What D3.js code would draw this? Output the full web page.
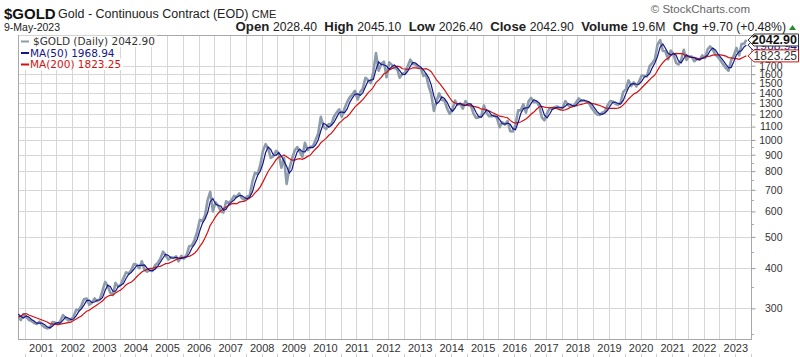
<!DOCTYPE html>
<html><head><meta charset="utf-8">
<script src="https://cdn.jsdelivr.net/npm/d3@7"></script>
<style>
body{margin:0;background:#fff;}
svg{display:block;font-family:"Liberation Sans",Arial,sans-serif;}
</style>
</head><body>
<svg id="c" width="800" height="357"></svg>
<script>
// ---- DATA (monthly readings, Apr 2000 .. May 2023) ----
const firstMonth = [2000, 3];      // April 2000
const lastDay = [2023, 4, 9];      // 9-May-2023
const price = [
  281,276,288,283,276,274,270,268,273,
  266,262,260,261,272,271,268,274,286,280,275,277,
  283,297,296,306,320,322,308,312,322,316,320,340,
  362,352,336,330,360,350,355,372,388,385,395,412,
  410,400,420,395,390,395,392,408,415,428,450,438,
  425,432,430,435,420,437,428,440,468,470,490,518,
  565,560,582,650,690,600,640,625,600,595,645,635,
  650,670,665,682,660,650,668,672,742,790,785,835,
  925,970,940,880,890,925,910,820,880,730,815,870,
  925,950,920,885,980,930,950,955,1000,1045,1180,1100,
  1080,1120,1115,1180,1215,1245,1180,1250,1310,1355,1385,1420,
  1335,1410,1440,1560,1535,1500,1625,1860,1640,1720,1750,1565,
  1740,1710,1670,1665,1560,1605,1615,1690,1775,1720,1715,1675,
  1665,1580,1600,1470,1390,1230,1320,1395,1330,1325,1250,1205,
  1245,1325,1285,1295,1250,1320,1285,1285,1210,1170,1175,1185,
  1280,1215,1185,1185,1190,1170,1095,1135,1115,1145,1065,1062,
  1115,1235,1235,1290,1215,1320,1350,1310,1315,1275,1175,1150,
  1210,1255,1250,1265,1270,1245,1265,1320,1280,1270,1275,1305,
  1345,1320,1325,1315,1300,1255,1225,1200,1195,1215,1225,1280,
  1320,1315,1295,1285,1305,1410,1435,1530,1470,1510,1465,1520,
  1585,1580,1575,1695,1730,1780,1975,2040,1890,1880,1780,1895,
  1850,1735,1715,1770,1905,1770,1815,1815,1755,1785,1775,1830,
  1795,1910,1950,1910,1840,1810,1765,1715,1670,1640,1770,1825,
  1930,1830,1985,1990,2042.90
];
const ma50 = [
  288,283,280,284,282,277,274,270,270,
  270,267,263,261,264,269,271,270,276,282,280,277,
  278,285,293,299,307,317,318,313,314,318,319,324,
  341,354,351,339,339,350,354,358,372,383,388,397,
  407,408,408,409,400,393,393,397,406,417,430,442,
  438,430,430,432,430,428,431,433,444,462,475,492,
  523,552,567,594,643,658,633,626,623,605,609,630,
  641,651,664,671,672,663,657,665,689,737,777,799,
  845,914,951,933,898,896,913,891,858,828,789,808,
  870,918,936,919,918,944,948,946,965,1000,1068,1126,
  1115,1095,1109,1133,1173,1214,1221,1214,1248,1306,1351,1386,
  1390,1375,1399,1463,1524,1533,1540,1653,1746,1715,1708,1696,
  1655,1689,1708,1679,1640,1598,1596,1631,1693,1740,1733,1706,
  1683,1646,1606,1563,1483,1370,1293,1316,1360,1345,1308,1258,
  1226,1255,1295,1298,1281,1279,1294,1294,1266,1219,1181,1176,
  1206,1240,1224,1193,1186,1184,1156,1124,1120,1128,1118,1084,
  1076,1132,1205,1249,1258,1260,1301,1333,1321,1304,1260,1194,
  1171,1206,1243,1255,1263,1263,1256,1274,1296,1288,1274,1281,
  1308,1329,1328,1321,1314,1293,1259,1226,1205,1201,1213,1236,
  1276,1309,1311,1298,1293,1326,1390,1453,1491,1495,1489,1490,
  1523,1568,1580,1606,1674,1734,1816,1943,1986,1925,1858,1834,
  1855,1833,1759,1734,1790,1838,1815,1804,1800,1778,1775,1791,
  1808,1833,1891,1930,1903,1850,1806,1764,1716,1674,1680,1751,
  1838,1879,1894,1948,1968.94
];
const ma200 = [
  282,284,288,289,286,284,282,280,278,
  276,274,272,269,268,268,267,268,269,270,271,272,
  275,278,281,284,289,294,296,300,304,308,312,316,
  323,327,329,330,335,339,342,348,355,359,362,368,
  376,383,389,393,397,399,399,402,404,405,409,413,
  414,417,421,425,428,431,432,434,435,439,445,454,
  467,480,496,517,543,559,577,592,603,611,619,626,
  633,635,633,641,643,645,652,660,669,685,698,715,
  741,770,798,821,843,868,885,888,898,887,876,866,
  865,872,875,871,878,889,896,918,937,954,980,995,
  1011,1034,1048,1073,1099,1128,1146,1167,1180,1205,1236,1266,
  1288,1311,1333,1365,1400,1425,1457,1507,1533,1563,1604,1620,
  1650,1665,1678,1695,1688,1663,1660,1657,1660,1675,1673,1669,
  1669,1660,1664,1651,1628,1582,1537,1504,1466,1431,1389,1352,
  1316,1302,1291,1298,1291,1283,1279,1275,1271,1267,1260,1246,
  1246,1238,1231,1218,1208,1197,1185,1182,1176,1172,1150,1135,
  1128,1133,1137,1149,1161,1180,1203,1220,1245,1266,1272,1264,
  1261,1258,1261,1256,1248,1241,1236,1241,1251,1263,1270,1275,
  1284,1290,1295,1302,1306,1299,1294,1287,1279,1270,1258,1254,
  1253,1253,1253,1256,1264,1285,1309,1340,1365,1388,1402,1423,
  1452,1481,1508,1537,1566,1591,1642,1695,1737,1773,1793,1824,
  1852,1856,1854,1853,1846,1819,1812,1805,1803,1792,1784,1794,
  1802,1816,1820,1834,1837,1836,1837,1830,1820,1801,1798,1790,
  1788,1780,1794,1812,1823.25
];
const yTickLabels = [300,400,500,600,700,800,900,1000,1100,1200,1300,1400,1500,1600,1700];
const yMinorTicks = [250,350,450,550,650,750,850,950];
const xYears = [2001,2002,2003,2004,2005,2006,2007,2008,2009,2010,2011,2012,2013,2014,2015,2016,2017,2018,2019,2020,2021,2022,2023];
const lastClose = 2042.90, lastMa50 = 1968.94, lastMa200 = 1823.25;

// ---- LAYOUT ----
const L = 18, R = 751, T = 35, B = 339;
const svg = d3.select("#c");

const dates = price.map((v, i) => {
  if (i === price.length - 1) return new Date(lastDay[0], lastDay[1], lastDay[2]);
  return new Date(firstMonth[0], firstMonth[1] + i, 15);
});

const x = d3.scaleTime().domain([new Date(2000, 3, 12), new Date(2023, 6, 2)]).range([L, R]);
const y = d3.scaleLog().domain([241, 2117]).range([B, T]);

// grid
const grid = svg.append("g");
const halfYears = d3.timeMonth.range(new Date(2000, 6, 1), new Date(2023, 6, 2)).filter(d => d.getMonth() % 6 === 0);
grid.selectAll("line.v").data(halfYears).join("line")
  .attr("x1", d => Math.round(x(d)) + 0.5).attr("x2", d => Math.round(x(d)) + 0.5)
  .attr("y1", T).attr("y2", B).attr("stroke", "#d6d6d6").attr("stroke-width", 1);
grid.selectAll("line.h").data(yTickLabels).join("line")
  .attr("x1", L).attr("x2", R)
  .attr("y1", d => Math.round(y(d)) + 0.5).attr("y2", d => Math.round(y(d)) + 0.5)
  .attr("stroke", "#d6d6d6").attr("stroke-width", 1);

// bottom small ticks
svg.append("g").selectAll("line").data(halfYears).join("line")
  .attr("x1", d => Math.round(x(d)) + 0.5).attr("x2", d => Math.round(x(d)) + 0.5)
  .attr("y1", 354).attr("y2", 357).attr("stroke", "#ccc");

// frame
svg.append("rect").attr("x", L + 0.5).attr("y", T + 0.5).attr("width", R - L).attr("height", B - T)
  .attr("fill", "none").attr("stroke", "#a8a8a8");

// clip
svg.append("clipPath").attr("id", "clip").append("rect")
  .attr("x", L).attr("y", T).attr("width", R - L).attr("height", B - T);

const line = d3.line().x((d, i) => x(dates[i])).y(d => y(d)).curve(d3.curveLinear);
const plot = svg.append("g").attr("clip-path", "url(#clip)");
plot.append("path").attr("d", line(price)).attr("fill", "none")
  .attr("stroke", "#8d9cab").attr("stroke-width", 2.6).attr("stroke-linejoin", "round");
plot.append("path").attr("d", line(ma200)).attr("fill", "none")
  .attr("stroke", "#d41111").attr("stroke-width", 1.2);
plot.append("path").attr("d", line(ma50)).attr("fill", "none")
  .attr("stroke", "#16168a").attr("stroke-width", 1.2);

// y axis (right)
const yAxis = d3.axisRight(y).tickValues(yTickLabels).tickFormat(d3.format("d")).tickSize(4).tickPadding(2);
const ya = svg.append("g").attr("transform", `translate(${R + 0.5},0)`).call(yAxis);
ya.select(".domain").remove();
ya.selectAll("line").attr("stroke", "#999");
ya.selectAll("text").attr("x", 31).attr("text-anchor", "end").attr("fill", "#333")
  .style("font-size", "10.5px").style("font-family", "'Liberation Sans',Arial,sans-serif");
svg.append("g").selectAll("line").data(yMinorTicks).join("line")
  .attr("x1", R).attr("x2", R + 3).attr("y1", d => Math.round(y(d)) + 0.5).attr("y2", d => Math.round(y(d)) + 0.5)
  .attr("stroke", "#aaa");

// x axis
const xAxis = d3.axisBottom(x).tickValues(xYears.map(v => new Date(v, 0, 1))).tickFormat(d3.timeFormat("%Y")).tickSize(0).tickPadding(0);
const xa = svg.append("g").attr("transform", `translate(0,${B})`).call(xAxis);
xa.select(".domain").remove();
xa.selectAll("text").attr("y", 13).attr("dy", 0).attr("fill", "#333")
  .style("font-size", "11px").style("font-family", "'Liberation Sans',Arial,sans-serif");

// legend
const leg = [
  {t: "$GOLD (Daily) 2042.90", c: "#8d9cab", tc: "#333"},
  {t: "MA(50) 1968.94", c: "#16168a", tc: "#16168a"},
  {t: "MA(200) 1823.25", c: "#d41111", tc: "#d41111"}
];
leg.forEach((d, i) => {
  const yy = 45 + i * 11.5;
  const g = svg.append("g");
  const bg = g.append("rect").attr("fill", "#fff");
  g.append("line").attr("x1", 21).attr("x2", 29).attr("y1", yy - 3.5).attr("y2", yy - 3.5)
    .attr("stroke", d.c).attr("stroke-width", 2);
  const tx = g.append("text").attr("x", i === 0 ? 33 : 30).attr("y", yy).attr("fill", d.tc)
    .style("font-size", "10.5px").style("font-family", "'DejaVu Sans',Verdana,sans-serif").text(d.t);
  const bb = tx.node().getBBox();
  bg.attr("x", 19).attr("y", yy - 9.5).attr("width", bb.x + bb.width - 19 + 2).attr("height", 11.5);
});

// right value tags
function tag(v, stroke, tc, bold) {
  const yy = y(v);
  const g = svg.append("g");
  g.append("path").attr("d", `M${R - 3},${yy} L${R + 3},${yy - 6} L798.5,${yy - 6} L798.5,${yy + 6} L${R + 3},${yy + 6} Z`)
    .attr("fill", "#fff").attr("stroke", stroke).attr("stroke-width", 1);
  g.append("text").attr("x", 797).attr("y", yy + 4.5).attr("text-anchor", "end").attr("fill", tc)
    .style("font-size", bold ? "12.5px" : "12px").style("font-weight", bold ? "bold" : "normal").text(d3.format(".2f")(v));
}
tag(lastMa50, "#16168a", "#16168a", false);
tag(lastMa200, "#d41111", "#333", false);
tag(lastClose, "#333", "#111", true);

// header
svg.append("text").attr("x", 4).attr("y", 19).attr("fill", "#111")
  .style("font-size", "15px").style("font-weight", "bold").text("$GOLD");
const sub = svg.append("text").attr("x", 58).attr("y", 18).attr("fill", "#222").style("font-size", "12.5px");
sub.append("tspan").text("Gold - Continuous Contract (EOD) ");
sub.append("tspan").style("font-size", "11px").text("CME");
svg.append("text").attr("x", 4).attr("y", 31).attr("fill", "#222").style("font-size", "10.5px").text("9-May-2023");
svg.append("text").attr("x", 750).attr("y", 13).attr("text-anchor", "end").attr("fill", "#666")
  .style("font-size", "11.5px").text("© StockCharts.com");

const stats = [["Open", "2028.40"], ["High", "2045.10"], ["Low", "2026.40"], ["Close", "2042.90"], ["Volume", "19.6M"], ["Chg", "+9.70 (+0.48%)"]];
const st = svg.append("text").attr("x", 786).attr("y", 31).attr("text-anchor", "end").attr("fill", "#222").style("font-size", "12.2px");
stats.forEach((s, i) => {
  st.append("tspan").style("font-weight", "bold").style("font-size", "13.2px").text((i ? "  " : "") + s[0] + " ");
  st.append("tspan").text(s[1]);
});
st.attr("xml:space", "preserve");
svg.append("path").attr("d", "M789,30 L796,30 L792.5,25 Z").attr("fill", "#2a8a2a");
</script>
</body></html>
